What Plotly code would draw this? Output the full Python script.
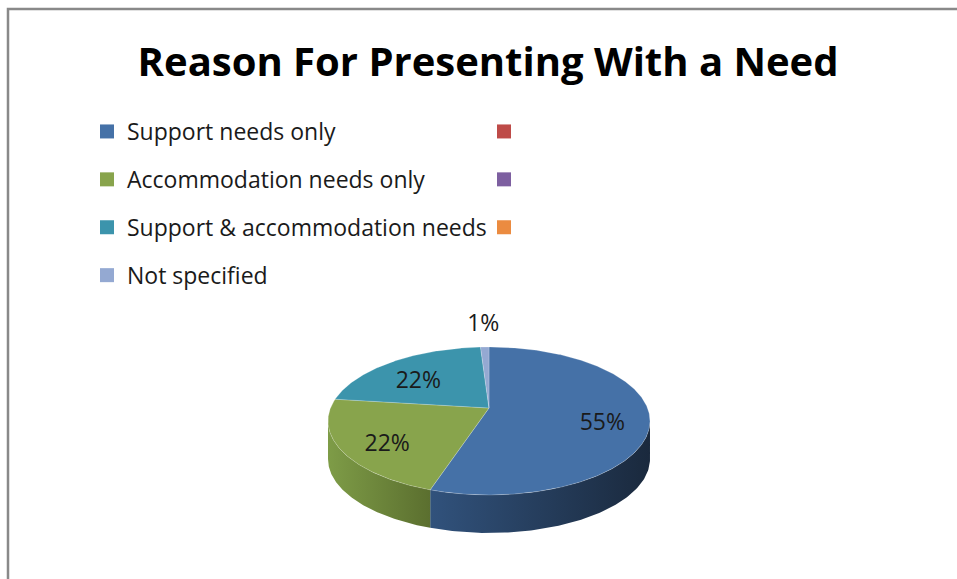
import numpy as np
import plotly.graph_objects as go

# ---- data (Excel row-major legend order, blank categories interleaved) ----
categories = ["Support needs only", "", "Accommodation needs only", "",
              "Support & accommodation needs", "", "Not specified"]
values = [55, 0, 22, 0, 22, 0, 1]
title_text = "Reason For Presenting With a Need"

# ---- styles ----
top_colors = ["#4571A7", "#BE4B48", "#88A44C", "#7D5FA0", "#3C94AC", "#EB8B40", "#94A9D2"]
side_light = ["#31527C", "#8E3735", "#7E9C47", "#5D4578", "#2D6F81", "#B06630", "#6F7F9E"]
side_dark = ["#1A293D", "#5E2423", "#5B6F2F", "#3E2E50", "#1E4A56", "#754420", "#4A546A"]
FONT = "Open Sans"
W, H = 957, 579
# projected 3-D disc: centre, radii, perspective factor, wall depth
CX, CY, RX, RY, PERSP, DEPTH = 489, 408, 158.5, 71.7, 0.1756, 38

fig = go.Figure()

total = float(sum(values))
fracs = [v / total for v in values]
starts = np.concatenate([[0.0], np.cumsum(fracs)[:-1]]) * 360.0
ends = np.cumsum(fracs) * 360.0


def proj(theta_deg, r=1.0, dy=0.0):
    t = np.radians(theta_deg)
    u, v = r * np.sin(t), r * np.cos(t)
    s = 1.0 / (1.0 + PERSP * v)
    return CX + RX * u * s, CY - RY * v * s + dy


# silhouette angles of the disc (visible wall between them)
sil = np.degrees(np.arcsin(PERSP))
wall_lo, wall_hi = 90.0 + sil, 270.0 - sil

# side walls
for i, (a, b) in enumerate(zip(starts, ends)):
    if values[i] <= 0:
        continue
    lo, hi = max(a, wall_lo), min(b, wall_hi)
    if hi <= lo:
        continue
    th = np.linspace(lo, hi, 100)
    xt, yt = proj(th)
    xb, yb = proj(th[::-1], dy=DEPTH)
    xs = np.concatenate([xt, xb, xt[:1]])
    ys = np.concatenate([yt, yb, yt[:1]])
    fig.add_trace(go.Scatter(
        x=xs, y=ys, mode="lines", fill="toself", line=dict(width=0),
        fillcolor=side_dark[i],
        fillgradient=dict(type="horizontal",
                          colorscale=[[0, side_light[i]], [1, side_dark[i]]],
                          start=float(xs.min()), stop=float(xs.max())),
        hoverinfo="skip", showlegend=False))

# top faces
for i, (a, b) in enumerate(zip(starts, ends)):
    if values[i] <= 0:
        continue
    th = np.linspace(a, b, max(int((b - a) * 2), 4))
    xp, yp = proj(th)
    xs = np.concatenate([[CX], xp, [CX]])
    ys = np.concatenate([[CY], yp, [CY]])
    fig.add_trace(go.Scatter(
        x=xs, y=ys, mode="lines", fill="toself",
        line=dict(width=0.6, color="rgba(255,255,255,0.35)"),
        fillcolor=top_colors[i], hoverinfo="skip", showlegend=False))

# data labels
lx, ly, lt = [], [], []
for i, (a, b) in enumerate(zip(starts, ends)):
    if values[i] <= 0:
        continue
    mid = (a + b) / 2
    f = fracs[i]
    if f >= 0.05:
        x, y = proj(mid, r=0.71, dy=8)
    else:
        x, y = proj(mid, r=1.45)
    lx.append(x)
    ly.append(y)
    lt.append(f"{round(f * 100)}%")
fig.add_trace(go.Scatter(x=lx, y=ly, text=lt, mode="text",
                         textfont=dict(family=FONT, size=23, color="#1a1a1a"),
                         hoverinfo="skip", showlegend=False))

# legend entries (two columns, row-major)
for i, (name, c) in enumerate(zip(categories, top_colors)):
    fig.add_trace(go.Scatter(
        x=[None], y=[None], mode="markers", name=name,
        marker=dict(symbol="square", size=14, color=c),
        legend="legend" if i % 2 == 0 else "legend2",
        legendgroup=f"g{i}", showlegend=True))

legend_common = dict(orientation="v", yanchor="top", xanchor="left",
                     font=dict(family=FONT, size=23, color="#1a1a1a"),
                     bgcolor="rgba(0,0,0,0)", tracegroupgap=15,
                     itemclick=False, itemdoubleclick=False)

fig.update_layout(
    width=W, height=H, autosize=False,
    margin=dict(l=0, r=0, t=0, b=0),
    paper_bgcolor="white", plot_bgcolor="white",
    title=dict(text=title_text, x=0.51, xanchor="center",
               y=1 - 62 / H, yanchor="middle",
               font=dict(family=FONT, size=40, color="#000000", weight="bold")),
    xaxis=dict(range=[0, W], visible=False, fixedrange=True),
    yaxis=dict(range=[H, 0], visible=False, fixedrange=True),
    legend=dict(x=87 / W, y=1 - 110 / H, **legend_common),
    legend2=dict(x=484 / W, y=1 - 110 / H, **legend_common),
    shapes=[dict(type="path", xref="x", yref="y",
                 path=f"M 8 {H} L 8 9 L {W} 9",
                 line=dict(color="#898989", width=2.5))],
)

fig.write_html("out.html", config={"displayModeBar": False},
               post_script="document.body.style.margin='0';"
                           "document.body.style.overflow='hidden';")
